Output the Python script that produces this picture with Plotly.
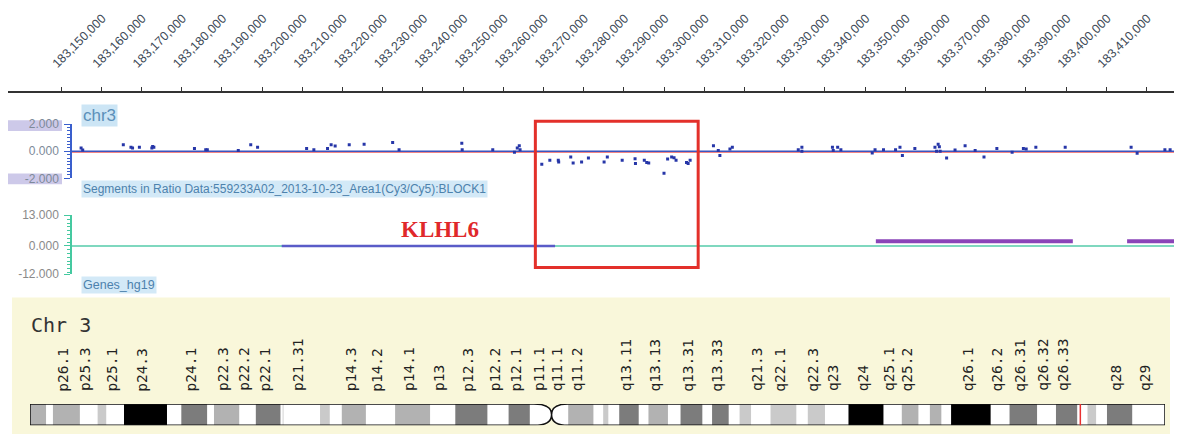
import plotly.graph_objects as go

W, H = 1181, 441

# ---------------- data ----------------
ruler_ticks = list(range(183150000, 183430000, 10000))
ruler_labels = [f"{v:,}" for v in ruler_ticks]

ratio_pos = [183155000, 183155400, 183165500, 183167400, 183167800, 183169500, 183172600, 183172800,
             183173100, 183183200, 183186000, 183186400, 183194100, 183197200, 183198900, 183211100,
             183212900, 183216300, 183217200, 183218200, 183221700, 183225400, 183232500, 183234100,
             183249700, 183249800, 183257400, 183262800, 183263500, 183264000, 183264200,
             183269600, 183271600, 183273700, 183273800, 183276800, 183277400, 183279500, 183281200,
             183285100, 183285900, 183289600, 183292800, 183292900, 183295100, 183295700, 183296200,
             183300000, 183300900, 183301900, 183302500, 183303000, 183305600, 183306000, 183306500,
             183312300, 183313500, 183313900, 183316400, 183317000, 183333400, 183334300, 183334300,
             183341900, 183342100, 183343200, 183344000, 183351800, 183352500, 183354600, 183357600,
             183358700, 183359300, 183362400, 183367400, 183367800, 183368200, 183368500, 183368700,
             183370300, 183372400, 183374900, 183377400, 183379600, 183382800, 183386600, 183389400,
             183390100, 183392500, 183399800, 183416200, 183417700, 183424600, 183425900]
ratio_val = [0.24, 0.10, 0.48, 0.29, 0.24, 0.29, 0.24, 0.36,
             0.29, 0.21, 0.12, 0.12, 0.05, 0.48, 0.29, 0.21,
             0.12, 0.21, 0.48, 0.38, 0.48, 0.52, 0.64, 0.12,
             0.59, 0.12, 0.12, -0.07, 0.24, 0.40, 0.12,
             -0.95, -0.67, -0.67, -0.79, -0.43, -0.86, -0.79, -0.50,
             -0.79, -0.43, -0.67, -0.55, -0.90, -0.67, -0.83, -0.86,
             -1.62, -0.57, -0.43, -0.48, -0.67, -0.83, -0.90, -0.67,
             0.40, 0.05, -0.31, 0.17, 0.29, 0.12, 0.29, 0.00,
             0.29, 0.05, 0.29, 0.12, -0.12, 0.12, 0.12, 0.12,
             0.29, -0.31, 0.21, 0.29, 0.00, 0.52, 0.33, 0.00,
             -0.50, 0.10, 0.40, 0.05, -0.43, 0.21, -0.07, 0.21,
             0.17, 0.29, 0.29, 0.29, -0.14, 0.12, 0.12]

gene_start = [183204900, 183352700, 183415200]
gene_end = [183272900, 183401700, 183530000]
gene_level = [0, 2, 2]
gene_color = ["#5a5cc8", "#8a45b8", "#8a45b8"]
gene_width = [2.5, 4, 4]

box_start, box_end = 183268000, 183308500

# chromosome 3 cytobands (Mb)
band_name = ["p26.3", "p26.2", "p26.1", "p25.3", "p25.2", "p25.1", "p24.3", "p24.2", "p24.1", "p23",
             "p22.3", "p22.2", "p22.1", "p21.33", "p21.32", "p21.31", "p21.2", "p21.1", "p14.3", "p14.2",
             "p14.1", "p13", "p12.3", "p12.2", "p12.1", "p11.2", "p11.1", "q11.1", "q11.2", "q12.1",
             "q12.2", "q12.3", "q13.11", "q13.12", "q13.13", "q13.2", "q13.31", "q13.32", "q13.33", "q21.1",
             "q21.2", "q21.3", "q22.1", "q22.2", "q22.3", "q23", "q24", "q25.1", "q25.2", "q25.31",
             "q25.32", "q25.33", "q26.1", "q26.2", "q26.31", "q26.32", "q26.33", "q27.1", "q27.2", "q27.3",
             "q28", "q29"]
band_start = [0.0, 2.8, 4.0, 8.7, 11.8, 13.3, 16.4, 23.9, 26.4, 30.9,
              32.1, 36.5, 39.4, 43.7, 44.1, 44.2, 50.6, 52.3, 54.4, 58.6,
              63.7, 69.8, 74.2, 79.8, 83.5, 87.2, 87.9, 91.0, 93.9, 98.3,
              100.0, 100.9, 102.8, 106.2, 107.9, 111.3, 113.5, 117.3, 119.0, 121.9,
              123.8, 125.8, 129.2, 133.7, 135.7, 138.7, 142.8, 148.9, 152.1, 155.0,
              157.0, 159.0, 160.7, 167.6, 170.9, 175.7, 179.0, 182.7, 184.5, 186.0,
              187.9, 192.3]
band_end = band_start[1:] + [198.022]
band_stain = ["gpos50", "gneg", "gpos50", "gneg", "gpos25", "gneg", "gpos100", "gneg", "gpos75", "gneg",
              "gpos50", "gneg", "gpos75", "gneg", "gpos50", "gneg", "gpos25", "gneg", "gpos50", "gneg",
              "gpos50", "gneg", "gpos75", "gneg", "gpos75", "gneg", "acen", "acen", "gvar", "gneg",
              "gpos25", "gneg", "gpos75", "gneg", "gpos50", "gneg", "gpos75", "gneg", "gpos75", "gneg",
              "gpos25", "gneg", "gpos25", "gneg", "gpos25", "gneg", "gpos100", "gneg", "gpos50", "gneg",
              "gpos50", "gneg", "gpos100", "gneg", "gpos75", "gneg", "gpos75", "gneg", "gpos25", "gneg",
              "gpos75", "gneg"]
label_bands = ["p26.1", "p25.3", "p25.1", "p24.3", "p24.1", "p22.3", "p22.2", "p22.1", "p21.31",
               "p14.3", "p14.2", "p14.1", "p13", "p12.3", "p12.2", "p12.1", "p11.1", "q11.1", "q11.2",
               "q13.11", "q13.13", "q13.31", "q13.33", "q21.3", "q22.1", "q22.3", "q23", "q24",
               "q25.1", "q25.2", "q26.1", "q26.2", "q26.31", "q26.32", "q26.33", "q28", "q29"]
marker_mb = 183.25

# ---------------- layout helpers ----------------
BP_PER_PX = 10000 / 40.2
def gx(px):
    return 183150000 + (px - 61) * BP_PER_PX
def py(px):
    return 1 - px / H
def pxx(px):
    return px / W

stain_color = {"gneg": "#ffffff", "gpos25": "#cacaca", "gpos50": "#b2b2b2", "gpos75": "#7c7c7c",
               "gpos100": "#000000", "gvar": "#b2b2b2"}

track_x = [gx(72), gx(1174)]

fig = go.Figure()

# zero lines (drawn first so the points sit on top)
fig.add_trace(go.Scatter(x=track_x, y=[-0.08, -0.08], mode="lines", xaxis="x", yaxis="y",
                         line=dict(color="#f07070", width=1), hoverinfo="skip", showlegend=False))
fig.add_trace(go.Scatter(x=track_x, y=[0, 0], mode="lines", xaxis="x", yaxis="y",
                         line=dict(color="#3a55c0", width=1.4), hoverinfo="skip", showlegend=False))
fig.add_trace(go.Scatter(x=track_x, y=[0, 0], mode="lines", xaxis="x", yaxis="y2",
                         line=dict(color="#7fd8bf", width=2), hoverinfo="skip", showlegend=False))

# ratio points
fig.add_trace(go.Scatter(x=ratio_pos, y=ratio_val, mode="markers", xaxis="x", yaxis="y",
                         marker=dict(size=3, color="#2636a8", symbol="square"),
                         hoverinfo="skip", showlegend=False))
# genes
for s, e, lv, c, w in zip(gene_start, gene_end, gene_level, gene_color, gene_width):
    fig.add_trace(go.Scatter(x=[s, e], y=[lv, lv], mode="lines", xaxis="x", yaxis="y2",
                             line=dict(color=c, width=w), hoverinfo="skip", showlegend=False))
# dummy traces for ruler and ideogram axes
fig.add_trace(go.Scatter(x=[ruler_ticks[0]], y=[0], xaxis="x3", yaxis="y3", mode="markers",
                         marker=dict(opacity=0), showlegend=False, hoverinfo="skip"))
fig.add_trace(go.Scatter(x=[0], y=[0.5], xaxis="x4", yaxis="y4", mode="markers",
                         marker=dict(opacity=0), showlegend=False, hoverinfo="skip"))

shapes = []
ann = []

# ideogram panel
shapes.append(dict(type="rect", xref="paper", yref="paper", x0=pxx(12), x1=pxx(1170), y0=0, y1=py(300),
                   fillcolor="#f9f7da", line=dict(width=0), layer="below"))
# y label shading
for top, bot in [(117, 128), (172, 183)]:
    shapes.append(dict(type="rect", xref="paper", yref="paper", x0=pxx(8), x1=pxx(62), y0=py(bot), y1=py(top),
                       fillcolor="#cdc9e9", line=dict(width=0), layer="below"))

# red box
shapes.append(dict(type="rect", xref="x", x0=box_start, x1=box_end, yref="paper", y0=py(269), y1=py(118),
                   line=dict(color="#e3302a", width=3), fillcolor="rgba(0,0,0,0)"))

# ideogram: white base with centromere outline
cen = 91.0
p_end = band_start[band_name.index("p11.1")]
q_start = band_end[band_name.index("q11.1")]
chrom_end = band_end[-1]
outline = (f"M 0,0 L 0,1 L {p_end},1 Q {cen},1 {cen},0.5 Q {cen},1 {q_start},1 L {chrom_end},1 "
           f"L {chrom_end},0 L {q_start},0 Q {cen},0 {cen},0.5 Q {cen},0 {p_end},0 Z")
shapes.append(dict(type="path", xref="x4", yref="y4", path=outline, fillcolor="#ffffff",
                   line=dict(width=0)))
for s, e, st in zip(band_start, band_end, band_stain):
    if st in ("acen", "gneg"):
        continue
    shapes.append(dict(type="rect", xref="x4", yref="y4", x0=s, x1=e, y0=0, y1=1,
                       fillcolor=stain_color[st], line=dict(width=0)))
shapes.append(dict(type="path", xref="x4", yref="y4", path=outline, fillcolor="rgba(0,0,0,0)",
                   line=dict(color="#111111", width=1.5)))
shapes.append(dict(type="line", xref="x4", yref="y4", x0=marker_mb, x1=marker_mb, y0=-0.32, y1=1.15,
                   line=dict(color="#e83030", width=1.5)))

# band labels
for nm in label_bands:
    i = band_name.index(nm)
    mid = (band_start[i] + band_end[i]) / 2
    ann.append(dict(text=nm, xref="x4", x=mid, yref="paper", y=py(399), yanchor="bottom", xanchor="center",
                    textangle=-90, showarrow=False, xshift=-3,
                    font=dict(family="DejaVu Sans Mono", size=14.5, color="#222222")))

# text labels
ann.append(dict(text="Chr 3", xref="paper", yref="paper", x=pxx(29), y=py(328), xanchor="left",
                yanchor="middle", showarrow=False,
                font=dict(family="DejaVu Sans Mono", size=20, color="#333333")))
ann.append(dict(text="chr3", xref="paper", yref="paper", x=pxx(81), y=py(100), xanchor="left", yanchor="top",
                showarrow=False, bgcolor="#cce5f5", borderpad=1,
                font=dict(family="Liberation Sans", size=17, color="#5b8fb9")))
ann.append(dict(text="Segments in Ratio Data:559233A02_2013-10-23_Area1(Cy3/Cy5):BLOCK1", xref="paper",
                yref="paper", x=pxx(81), y=py(188), xanchor="left", yanchor="middle", showarrow=False,
                bgcolor="#d3e9f7", borderpad=1,
                font=dict(family="Liberation Sans", size=12, color="#4d82ad")))
ann.append(dict(text="Genes_hg19", xref="paper", yref="paper", x=pxx(81), y=py(287), xanchor="left",
                yanchor="middle", showarrow=False, bgcolor="#d3e9f7", borderpad=1,
                font=dict(family="Liberation Sans", size=12.5, color="#4d82ad")))
ann.append(dict(text="<b>KLHL6</b>", xref="paper", yref="paper", x=pxx(399), y=py(230), xanchor="left",
                yanchor="middle", showarrow=False,
                font=dict(family="Liberation Serif", size=23, color="#e0282a")))

t1 = [-2, 0, 2]
t2 = [-12, 0, 13]
fig.update_layout(
    width=W, height=H, margin=dict(l=0, r=0, t=0, b=0),
    paper_bgcolor="white", plot_bgcolor="rgba(0,0,0,0)",
    showlegend=False,
    xaxis=dict(domain=[pxx(72), pxx(1174)], range=track_x, visible=False, anchor="y"),
    yaxis=dict(domain=[py(177), py(121)], range=[-2, 2], anchor="x",
               tickmode="array", tickvals=t1, ticktext=[f"{v:.3f}" for v in t1],
               ticks="outside", ticklen=6, tickcolor="#3a5fcd", tickwidth=1.3,
               showline=True, linecolor="#3a5fcd", linewidth=1.5,
               minor=dict(ticks="outside", ticklen=3, tick0=0, dtick=0.25, tickcolor="#3a5fcd", showgrid=False),
               showgrid=True, gridcolor="#dfe8ef", gridwidth=1, zeroline=False,
               tickfont=dict(family="Liberation Sans", size=12, color="#7d8a99"), ticklabelstandoff=3),
    yaxis2=dict(domain=[py(276), py(215)], range=[-12, 13], anchor="x",
                tickmode="array", tickvals=t2, ticktext=[f"{v:.3f}" for v in t2],
                ticks="outside", ticklen=6, tickcolor="#45c9a0", tickwidth=1.3,
                showline=True, linecolor="#45c9a0", linewidth=1.5,
                minor=dict(ticks="outside", ticklen=3, tick0=0, dtick=1.6, tickcolor="#45c9a0", showgrid=False),
                showgrid=True, gridcolor="#dfe8ef", gridwidth=1, zeroline=False,
                tickfont=dict(family="Liberation Sans", size=12, color="#8a8a8a"), ticklabelstandoff=3),
    xaxis3=dict(domain=[pxx(8), pxx(1174)], range=[gx(8), gx(1174)], anchor="y3", side="top",
                tickmode="array", tickvals=ruler_ticks, ticktext=ruler_labels, tickangle=-45,
                ticks="outside", ticklen=4, tickcolor="#333333", tickwidth=1.3,
                showline=True, linecolor="#333333", linewidth=1.5, showgrid=False, zeroline=False,
                tickfont=dict(family="Liberation Sans", size=12.5, color="#3d4a57"),
                ticklabelstandoff=12, ticklabelshift=-8),
    yaxis3=dict(domain=[py(90), py(89)], range=[0, 1], visible=False, anchor="x3"),
    xaxis4=dict(domain=[pxx(30), pxx(1165)], range=[0, band_end[-1]], visible=False, anchor="y4"),
    yaxis4=dict(domain=[py(432), py(410)], range=[0, 1], visible=False, anchor="x4"),
    shapes=shapes, annotations=ann,
)

fig.write_html("out.html", post_script="document.body.style.margin='0';",
               config={"displayModeBar": False})
